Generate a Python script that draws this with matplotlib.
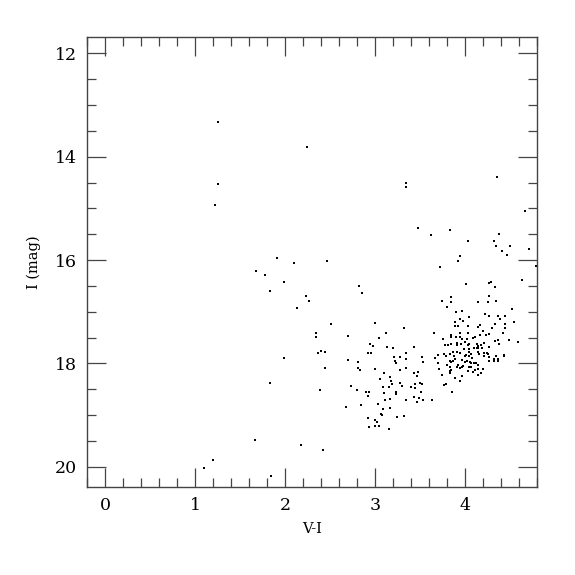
import numpy as np
import matplotlib
matplotlib.use('Agg')
import matplotlib.pyplot as plt
from matplotlib.ticker import MultipleLocator

# V-I colour and I magnitude of the stars
# bright / blue / scattered stars
vi_sparse = [1.26, 1.26, 1.22, 2.24, 3.35, 3.35, 4.36, 4.67, 3.48, 3.62,
             3.83, 4.03, 4.38, 4.32, 4.35, 4.50, 4.41, 4.47, 4.71, 3.94,
             3.92, 3.72, 4.79, 4.63, 4.01, 4.27, 4.29, 4.33, 3.85, 4.27,
             1.91, 2.10, 2.47, 1.68, 1.78, 1.99, 1.83, 2.23, 2.27, 2.13,
             2.82, 2.86, 1.99, 1.83, 1.67, 1.20, 1.10, 1.84, 2.18, 2.42]
i_sparse = [13.32, 14.53, 14.93, 13.82, 14.50, 14.58, 14.40, 15.05, 15.38, 15.51,
            15.42, 15.63, 15.50, 15.63, 15.72, 15.72, 15.82, 15.91, 15.79, 15.92,
            16.02, 16.14, 16.12, 16.38, 16.46, 16.44, 16.43, 16.53, 16.72, 16.70,
            15.95, 16.06, 16.01, 16.21, 16.29, 16.43, 16.60, 16.70, 16.79, 16.92,
            16.51, 16.64, 17.89, 18.38, 19.48, 19.87, 20.02, 20.18, 19.58, 19.68]

# middle group (V-I ~ 2.3 - 3.6)
vi_mid = [2.51, 2.35, 2.34, 2.70, 3.00, 3.04, 2.94, 2.98, 2.92, 2.96,
          2.40, 2.44, 2.37, 2.70, 2.81, 2.81, 2.83, 2.45, 3.00, 2.39,
          2.73, 2.80, 2.90, 2.93, 2.92, 2.68, 2.84, 3.03, 2.92, 3.00,
          3.02, 2.93, 3.00, 3.04, 3.12, 3.32, 3.13, 3.20, 3.21, 3.22,
          3.23, 3.28, 3.34, 3.35, 3.43, 3.52, 3.53, 3.28, 3.34, 3.43,
          3.48, 3.47, 3.10, 3.06, 3.17, 3.18, 3.28, 3.19, 3.16, 3.09,
          3.30, 3.40, 3.44, 3.50, 3.52, 3.45, 3.51, 3.43, 3.49, 3.53,
          3.47, 3.35, 3.23, 3.23, 3.17, 3.11, 3.10, 3.09, 3.17, 3.07,
          3.08, 3.24, 3.32, 3.16, 3.63]
i_mid = [17.24, 17.41, 17.48, 17.46, 17.21, 17.50, 17.62, 17.66, 17.79, 17.79,
         17.76, 17.77, 17.79, 17.94, 17.97, 18.08, 18.13, 18.08, 18.11, 18.51,
         18.44, 18.52, 18.56, 18.56, 18.63, 18.85, 18.81, 18.79, 19.06, 19.09,
         19.13, 19.22, 19.20, 19.20, 17.41, 17.31, 17.69, 17.71, 17.87, 17.95,
         18.00, 17.87, 17.91, 17.80, 17.68, 17.87, 17.97, 18.12, 18.08, 18.18,
         18.16, 18.24, 18.19, 18.30, 18.27, 18.33, 18.37, 18.40, 18.45, 18.46,
         18.44, 18.46, 18.39, 18.38, 18.40, 18.48, 18.56, 18.65, 18.67, 18.71,
         18.74, 18.71, 18.56, 18.60, 18.69, 18.70, 18.58, 18.88, 18.87, 18.98,
         18.99, 19.04, 19.02, 19.27, 18.71]

# red group (V-I > 3.6)
vi_red = [3.75, 3.84, 3.80, 4.15, 4.26, 4.34, 4.52, 3.90, 3.97, 4.22,
          4.27, 4.37, 4.44, 4.39, 4.55, 3.89, 3.94, 3.98, 4.04, 4.17,
          4.15, 4.33, 4.44, 4.44, 3.92, 3.89, 4.03, 4.30,
          3.66, 3.76, 3.84, 3.84, 3.90, 3.95, 3.95, 4.03, 4.11, 4.17,
          4.20, 4.23, 4.27, 4.33, 4.37, 4.42, 4.49, 4.59, 4.38, 3.78,
          3.81, 3.85, 3.91, 3.91, 3.96, 4.00, 4.03, 4.05, 4.13, 4.15,
          4.18, 4.21, 4.27, 4.13, 4.10, 3.77, 3.70, 3.67, 3.83, 3.87,
          3.91, 3.95, 3.99, 4.01, 4.05, 4.07, 4.15, 4.16, 4.21, 4.24,
          4.26, 4.21, 4.27, 4.32, 4.37, 4.32, 4.37, 4.43, 4.43, 3.79,
          3.70, 3.71, 3.74, 3.77, 3.79, 3.80, 3.83, 3.84, 3.89, 3.83,
          3.83, 3.84, 3.89, 3.94, 3.86, 3.97, 4.00, 4.02, 4.06, 4.07,
          3.91, 3.94, 3.97, 4.04, 4.07, 4.12, 4.14, 4.03, 4.09, 4.11,
          4.14, 4.15, 4.18, 4.20, 3.97,
          3.83, 3.92, 3.98, 4.10, 3.88, 3.87, 4.00, 4.04, 4.08, 4.35,
          4.27, 4.15, 4.19, 3.97, 4.02, 4.09, 4.04]
i_red = [16.79, 16.81, 16.90, 16.81, 16.81, 16.80, 16.95, 17.01, 16.98, 17.04,
         17.08, 17.08, 17.08, 17.14, 17.19, 17.19, 17.13, 17.17, 17.11, 17.25,
         17.30, 17.23, 17.24, 17.32, 17.27, 17.28, 17.28, 17.31,
         17.41, 17.52, 17.44, 17.49, 17.49, 17.41, 17.49, 17.41, 17.49, 17.44,
         17.37, 17.44, 17.43, 17.56, 17.55, 17.42, 17.54, 17.58, 17.63, 17.64,
         17.64, 17.63, 17.61, 17.64, 17.62, 17.58, 17.64, 17.62, 17.63, 17.66,
         17.64, 17.60, 17.69, 17.71, 17.71, 17.81, 17.84, 17.89, 17.81, 17.78,
         17.77, 17.80, 17.72, 17.83, 17.77, 17.81, 17.77, 17.81, 17.80, 17.79,
         17.81, 17.85, 17.96, 17.91, 17.91, 17.96, 17.96, 17.83, 17.86, 17.86,
         18.00, 18.10, 18.22, 18.41, 18.40, 18.02, 17.96, 17.98, 17.91, 18.14,
         18.18, 18.12, 18.28, 18.33, 18.55, 17.94, 17.98, 17.95, 17.97, 17.99,
         18.07, 18.09, 18.06, 18.07, 18.06, 18.00, 18.03, 18.15, 18.17, 18.12,
         18.11, 18.22, 18.19, 18.11, 18.24,
         18.07, 18.02, 18.04, 18.00, 17.85, 17.95, 17.86, 17.85, 17.90, 17.86,
         17.87, 17.70, 17.70, 17.53, 17.53, 17.50, 17.72]

vi = vi_sparse + vi_mid + vi_red
imag = i_sparse + i_mid + i_red

plt.rcParams['font.family'] = 'DejaVu Serif'

fig = plt.figure(figsize=(5.75, 5.75), dpi=100)
ax = fig.add_axes([0.1513, 0.1530, 0.7826, 0.7826])

ax.plot(vi, imag, 's', color='black', ms=1.7, mew=0)

ax.set_xlim(-0.2, 4.8)
ax.set_ylim(20.39, 11.685)

ax.xaxis.set_major_locator(MultipleLocator(1))
ax.xaxis.set_minor_locator(MultipleLocator(0.2))
ax.yaxis.set_major_locator(MultipleLocator(2))
ax.yaxis.set_minor_locator(MultipleLocator(0.5))

ax.tick_params(which='both', direction='in', top=True, right=True,
               color='#444444', width=0.9, labelsize=12.5, pad=7)
ax.tick_params(which='major', length=13.5)
ax.tick_params(which='minor', length=6.5)
for s in ax.spines.values():
    s.set_color('#444444')
    s.set_linewidth(1.0)

ax.set_xlabel('V-I', fontsize=10.5, labelpad=6)
ax.set_ylabel('I (mag)', fontsize=10.5, labelpad=10)

fig.savefig('out.png', dpi=100)
